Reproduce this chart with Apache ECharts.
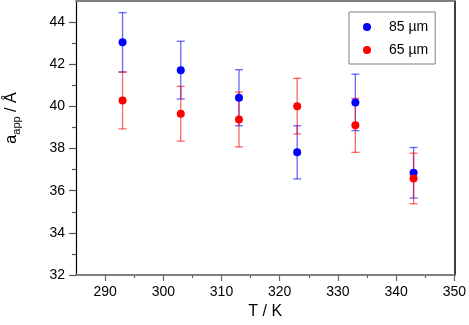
<!DOCTYPE html>
<html>
<head>
<meta charset="utf-8">
<script src="https://cdn.jsdelivr.net/npm/echarts@6/dist/echarts.min.js"></script>
<style>
  html, body { margin: 0; padding: 0; background: #fff; }
  #chart { width: 469px; height: 325px; }
</style>
</head>
<body>
<div id="chart"></div>
<script>
// temperatures (K)
const temps = [293, 303, 313, 323, 333, 343]
// apparent lattice constant, 85 um sample
const a85 = [43.04, 41.72, 40.41, 37.82, 40.19, 36.85]
const err85 = [1.41, 1.37, 1.33, 1.26, 1.34, 1.2]
// 65 um sample
const a65 = [40.28, 39.65, 39.38, 40.01, 39.1, 36.58]
const err65 = [1.35, 1.3, 1.3, 1.32, 1.28, 1.2]

const xMajor = [290, 300, 310, 320, 330, 340, 350]
const xMinor = [295, 305, 315, 325, 335, 345]
const yMajor = [32, 34, 36, 38, 40, 42, 44]
const yMinor = [33, 35, 37, 39, 41, 43]

const font = 'Liberation Sans, Arial, Helvetica, sans-serif'

function errData(vals, errs) {
  return temps.map((t, i) => [t, vals[i] - errs[i], vals[i] + errs[i]])
}

function renderErr(color) {
  return function (params, api) {
    const lo = api.coord([api.value(0), api.value(1)])
    const hi = api.coord([api.value(0), api.value(2)])
    const w = 4
    const style = { stroke: color, lineWidth: 1.3 }
    return {
      type: 'group',
      children: [
        { type: 'line', shape: { x1: lo[0], y1: lo[1], x2: hi[0], y2: hi[1] }, style: style },
        { type: 'line', shape: { x1: lo[0] - w, y1: lo[1], x2: lo[0] + w, y2: lo[1] }, style: style },
        { type: 'line', shape: { x1: hi[0] - w, y1: hi[1], x2: hi[0] + w, y2: hi[1] }, style: style }
      ]
    }
  }
}

const chart = echarts.init(document.getElementById('chart'))

const baseX = { type: 'value', min: 285, max: 350, splitLine: { show: false } }
const baseY = { type: 'value', min: 32, max: 45, splitLine: { show: false } }

chart.setOption({
  animation: false,
  backgroundColor: '#fff',
  textStyle: { fontFamily: font },
  grid: { left: 76, right: 13, top: 1, bottom: 49 },
  xAxis: [
    Object.assign({}, baseX, {
      position: 'bottom',
      name: 'T / K',
      nameLocation: 'middle',
      nameGap: 29,
      nameTextStyle: { fontSize: 16, color: '#000', fontFamily: font },
      axisLine: { lineStyle: { color: '#808080', width: 2 } },
      axisTick: { customValues: xMajor, length: 6, lineStyle: { color: '#666', width: 1.2 } },
      axisLabel: { customValues: xMajor, fontSize: 14, color: '#000', margin: 10, fontFamily: font }
    }),
    Object.assign({}, baseX, {
      position: 'bottom',
      axisLine: { show: false },
      axisTick: { customValues: xMinor, length: 3, lineStyle: { color: '#666', width: 1.2 } },
      axisLabel: { show: false }
    }),
    Object.assign({}, baseX, {
      position: 'top',
      axisLine: { lineStyle: { color: '#808080', width: 2 } },
      axisTick: { show: false },
      axisLabel: { show: false }
    })
  ],
  yAxis: [
    Object.assign({}, baseY, {
      position: 'left',
      axisLine: { lineStyle: { color: '#000', width: 1.2 } },
      axisTick: { customValues: yMajor, length: 7, lineStyle: { color: '#555', width: 1.2 } },
      axisLabel: { customValues: yMajor, fontSize: 14, color: '#000', margin: 11, fontFamily: font }
    }),
    Object.assign({}, baseY, {
      position: 'left',
      axisLine: { show: false },
      axisTick: { customValues: yMinor, length: 4, lineStyle: { color: '#555', width: 1.2 } },
      axisLabel: { show: false }
    }),
    Object.assign({}, baseY, {
      position: 'right',
      axisLine: { lineStyle: { color: '#000', width: 1.5 } },
      axisTick: { show: false },
      axisLabel: { show: false }
    })
  ],
  legend: {
    data: ['85 µm', '65 µm'],
    orient: 'vertical',
    left: 349,
    top: 12,
    width: 85,
    padding: [8, 7, 7, 14],
    itemWidth: 8,
    itemHeight: 8,
    itemGap: 9,
    icon: 'circle',
    borderColor: '#808080',
    borderWidth: 1,
    textStyle: { fontSize: 14, color: '#000', fontFamily: font, padding: [0, 0, 0, 13] }
  },
  graphic: [{
    type: 'text',
    x: 13,
    y: 118,
    rotation: Math.PI / 2,
    style: {
      text: '{a|a}{s|app}{a| / Å}',
      align: 'center',
      verticalAlign: 'middle',
      rich: {
        a: { fontSize: 16, fontFamily: font, fill: '#000', verticalAlign: 'top', lineHeight: 16 },
        s: { fontSize: 11, fontFamily: font, fill: '#000', verticalAlign: 'top', padding: [8, 0, 0, 0] }
      }
    }
  }],
  series: [
    {
      name: 'err85',
      type: 'custom',
      renderItem: renderErr('rgba(0,0,255,0.6)'),
      data: errData(a85, err85),
      encode: { x: 0, y: [1, 2] },
      z: 1
    },
    {
      name: 'err65',
      type: 'custom',
      renderItem: renderErr('rgba(255,0,0,0.6)'),
      data: errData(a65, err65),
      encode: { x: 0, y: [1, 2] },
      z: 2
    },
    {
      name: '85 µm',
      type: 'scatter',
      symbolSize: 8,
      itemStyle: { color: '#0000ff', opacity: 1 },
      data: temps.map((t, i) => [t, a85[i]]),
      z: 3
    },
    {
      name: '65 µm',
      type: 'scatter',
      symbolSize: 8,
      itemStyle: { color: '#ff0000', opacity: 1 },
      data: temps.map((t, i) => [t, a65[i]]),
      z: 4
    }
  ]
})
</script>
</body>
</html>
